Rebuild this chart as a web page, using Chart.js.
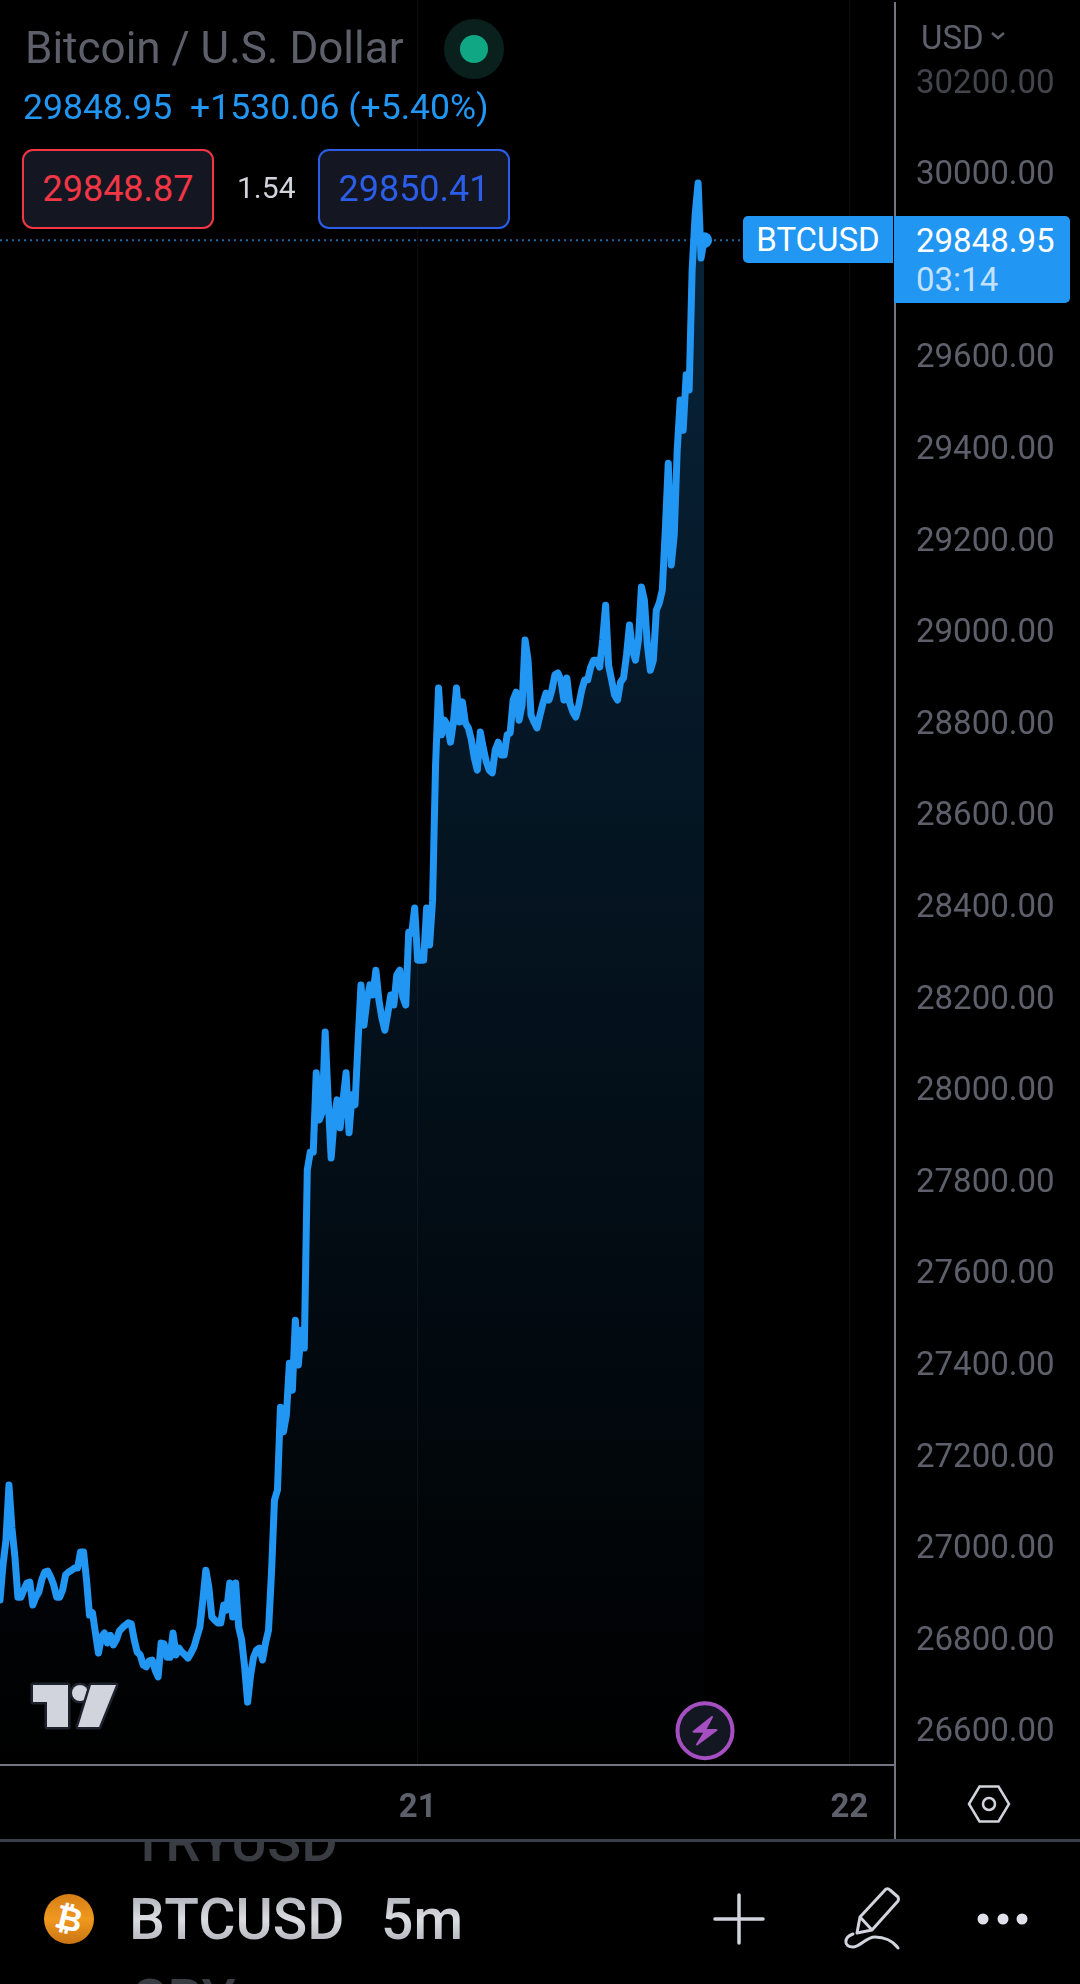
<!DOCTYPE html>
<html>
<head>
<meta charset="utf-8">
<title>BTCUSD</title>
<script src="https://cdn.jsdelivr.net/npm/chart.js@4/dist/chart.umd.min.js"></script>
<style>
html, body { margin: 0; padding: 0; background: #000; }
body { width: 1080px; height: 1984px; position: relative; overflow: hidden; font-family: Roboto, sans-serif; }
#chartWrap { position: absolute; left: 0; top: 0; width: 1080px; height: 1840px; }
.abs { position: absolute; white-space: nowrap; line-height: 1; }
.box { position: absolute; box-sizing: border-box; top: 149px; height: 80px; width: 192px; background: #141722; border-radius: 11px; border: 2px solid; font-size: 36px; text-align: center; line-height: 76px; }
.clip { position: absolute; overflow: hidden; left: 0; width: 600px; }
.metal { background: linear-gradient(180deg, #a9abb3 0%, #dcdde2 50%, #a9abb3 100%); -webkit-background-clip: text; background-clip: text; color: transparent; }
</style>
</head>
<body>
<div id="chartWrap"><canvas id="priceChart" width="1080" height="1840"></canvas></div>

<!-- header -->
<div class="abs" style="left:25px;top:26px;font-size:44px;color:#5d606b">Bitcoin / U.S. Dollar</div>
<div class="abs" style="left:444px;top:19px;width:60px;height:60px;border-radius:50%;background:#0a201d"></div>
<div class="abs" style="left:460px;top:35px;width:28px;height:28px;border-radius:50%;background:#10a884"></div>
<div class="abs" style="left:23px;top:90px;font-size:35.6px;color:#2196f3">29848.95&nbsp; +1530.06 (+5.40%)</div>
<div class="box" style="left:22px;border-color:#f23645;color:#f23645">29848.87</div>
<div class="abs" style="left:237px;top:173px;font-size:30px;color:#d1d4dc">1.54</div>
<div class="box" style="left:318px;border-color:#2b5de8;color:#2b5de8">29850.41</div>

<!-- price axis head -->
<div class="abs" style="left:921px;top:21px;font-size:33px;color:#5d606b">USD</div>
<svg class="abs" style="left:990px;top:31px" width="16" height="10"><path d="M2 2 L8 7 L14 2" fill="none" stroke="#5d606b" stroke-width="2.5"/></svg>

<!-- last price tags -->
<div class="abs" style="left:743px;top:216px;width:150px;height:47px;background:#2196f3;border-radius:5px 0 0 5px;color:#fff;font-size:33px;line-height:48px;text-align:center">BTCUSD</div>
<div class="abs" style="left:894px;top:216px;width:176px;height:87px;background:#2196f3;border-radius:0 5px 5px 0"></div>
<div class="abs" style="left:916px;top:224px;font-size:33px;color:#fff">29848.95</div>
<div class="abs" style="left:916px;top:263px;font-size:33px;color:#c2e1fb">03:14</div>

<!-- separators -->
<div class="abs" style="left:894px;top:2px;width:2px;height:214px;background:#72757e"></div>
<div class="abs" style="left:894px;top:303px;width:2px;height:1537px;background:#72757e"></div>
<div class="abs" style="left:0;top:1839px;width:1080px;height:3px;background:#3a3e48"></div>

<!-- watermark -->
<svg class="abs" style="left:24px;top:1674px" width="104" height="60" viewBox="24 1674 104 60">
  <g fill="#d1d4dc" stroke="#1e222d" stroke-width="5" paint-order="stroke" stroke-linejoin="round">
    <path d="M33 1685 H68 V1727 H47 V1702 H33 Z"/>
    <circle cx="80" cy="1693" r="8"/>
    <path d="M91 1685 H116 L99 1727 H78 Z"/>
  </g>
</svg>

<!-- lightning badge -->
<svg class="abs" style="left:672px;top:1698px" width="66" height="66" viewBox="0 0 66 66">
  <circle cx="33" cy="32.7" r="27.5" fill="#131722" stroke="#a64fc2" stroke-width="4"/>
  <path d="M40 19 L21.5 33.7 H33 L25 46.5 L44.5 32 H33 Z" fill="#a64fc2" stroke="#a64fc2" stroke-width="2" stroke-linejoin="round"/>
</svg>

<!-- settings hexagon -->
<svg class="abs" style="left:967px;top:1782px" width="44" height="44" viewBox="0 0 44 44">
  <path d="M2 22 L12.5 4.5 H31.5 L42 22 L31.5 39.5 H12.5 Z" fill="none" stroke="#d1d4dc" stroke-width="2.5"/>
  <circle cx="22" cy="22" r="6" fill="none" stroke="#d1d4dc" stroke-width="2.5"/>
</svg>

<!-- symbol strip -->
<div class="clip" style="top:1842px;height:30px"><div class="abs" style="left:131px;top:-28px;font-size:56px;font-weight:500;color:#3a3c43">TRYUSD</div></div>
<div class="clip" style="top:1974px;height:10px"><div class="abs" style="left:131px;top:-2px;font-size:56px;font-weight:500;color:#3a3c43">CRY</div></div>
<div class="abs" style="left:44px;top:1894px;width:50px;height:50px;border-radius:50%;background:linear-gradient(180deg,#d67d15 0%,#f0991f 50%,#c97414 100%)"></div>
<div class="abs" style="left:44px;top:1894px;width:50px;height:50px;color:#fff;font-size:33px;font-weight:700;text-align:center;line-height:50px;transform:rotate(14deg)">₿</div>
<div class="abs metal" style="left:129px;top:1891px;font-size:57px;font-weight:500">BTCUSD</div>
<div class="abs metal" style="left:381px;top:1891px;font-size:57px;font-weight:500">5m</div>
<svg class="abs" style="left:710px;top:1880px" width="340" height="75" viewBox="710 1880 340 75">
  <path d="M739 1895 V1943 M715 1919 H763" stroke="#d1d4dc" stroke-width="3.5" fill="none" stroke-linecap="round"/>
  <path d="M886 1889 Q888 1888 890 1890 L898 1897 Q899 1899 898 1901 L872 1930 L857 1933 L860 1917 Z M860 1917 L872 1930" fill="none" stroke="#d1d4dc" stroke-width="3" stroke-linejoin="round"/>
  <path d="M853 1934 C844 1937 843 1947 853 1947 C860 1947 866 1937 875 1937 C884 1937 893 1941 898 1948" fill="none" stroke="#d1d4dc" stroke-width="3" stroke-linecap="round"/>
  <circle cx="983" cy="1919" r="5.5" fill="#dfe0ea"/><circle cx="1003" cy="1919" r="5.5" fill="#dfe0ea"/><circle cx="1022" cy="1919" r="5.5" fill="#dfe0ea"/>
</svg>

<script>
// 10 minute closes
const PRICES = [
    26880, 26956, 27011, 27131, 27037, 26974, 26886, 26886, 26902, 26917,
    26919, 26869, 26886, 26897, 26924, 26941, 26943, 26930, 26913, 26886,
    26886, 26902, 26935, 26941, 26945, 26950, 26950, 26985, 26985, 26924,
    26847, 26852, 26808, 26764, 26799, 26808, 26786, 26803, 26782, 26793,
    26812, 26819, 26825, 26830, 26828, 26793, 26766, 26760, 26738, 26734,
    26747, 26749, 26727, 26712, 26786, 26784, 26755, 26755, 26808, 26760,
    26775, 26766, 26760, 26753, 26764, 26777, 26799, 26821, 26880, 26945,
    26908, 26843, 26836, 26830, 26830, 26869, 26858, 26917, 26843, 26917,
    26821, 26793, 26734, 26657, 26716, 26755, 26771, 26775, 26749, 26786,
    26814, 26939, 27098, 27120, 27301, 27247, 27284, 27397, 27338, 27491,
    27393, 27469, 27430, 27819, 27858, 27858, 28031, 27928, 27945, 28120,
    27972, 27845, 27928, 27972, 27911, 27972, 28031, 27900, 27983, 27961,
    28096, 28223, 28135, 28190, 28223, 28201, 28255, 28190, 28151, 28124,
    28162, 28201, 28179, 28245, 28255, 28197, 28179, 28338, 28336, 28391,
    28277, 28277, 28277, 28391, 28310, 28408, 28703, 28871, 28769, 28801,
    28790, 28753, 28797, 28871, 28797, 28841, 28795, 28784, 28758, 28718,
    28692, 28775, 28740, 28710, 28692, 28686, 28736, 28753, 28725, 28725,
    28769, 28773, 28845, 28862, 28801, 28834, 28976, 28932, 28812, 28797,
    28784, 28812, 28838, 28860, 28845, 28867, 28900, 28904, 28889, 28845,
    28893, 28838, 28819, 28808, 28834, 28867, 28889, 28889, 28917, 28932,
    28932, 28917, 28976, 29052, 28921, 28889, 28856, 28845, 28884, 28893,
    28943, 29009, 28954, 28932, 28976, 29092, 29063, 28965, 28910, 28932,
    29041, 29057, 29085, 29216, 29362, 29140, 29205, 29391, 29500, 29434,
    29555, 29522, 29784, 29904, 29974, 29810, 29848.95
];
const PRICE_TICKS = [30200, 30000, 29600, 29400, 29200, 29000, 28800, 28600, 28400, 28200,
    28000, 27800, 27600, 27400, 27200, 27000, 26800, 26600];
const DAY_TICKS = [140, 284.7];
const DAY_LABELS = ['21', '22'];

const PRICE_MIN = 26519.7;
const PRICE_MAX = 30373.4;
const BAR_MAX = 300;
const DOT_LINE_END = 250;

const BLUE = '#2196f3';
const AXIS_TEXT = '#5d606b';

function areaGradient(context) {
    const { ctx, chartArea } = context.chart;
    if (!chartArea) return 'transparent';
    const g = ctx.createLinearGradient(0, 183, 0, chartArea.bottom);
    g.addColorStop(0, 'rgba(33, 150, 243, 0.24)');
    g.addColorStop(1, 'rgba(33, 150, 243, 0)');
    return g;
}

const lastIndex = PRICES.length - 1;
const lastPrice = PRICES[lastIndex];

Chart.defaults.font.family = 'Roboto, sans-serif';

new Chart(document.getElementById('priceChart').getContext('2d'), {
    type: 'line',
    data: {
        datasets: [
            {
                data: PRICES.map((p, i) => ({ x: i, y: p })),
                borderColor: BLUE,
                borderWidth: 7,
                borderCapStyle: 'round',
                borderJoinStyle: 'round',
                backgroundColor: areaGradient,
                fill: 'start',
                tension: 0,
                pointRadius: (c) => (c.dataIndex === lastIndex ? 8 : 0),
                pointBackgroundColor: BLUE,
                pointBorderWidth: 0
            },
            {
                data: [{ x: 0, y: lastPrice }, { x: DOT_LINE_END, y: lastPrice }],
                borderColor: 'rgba(33, 150, 243, 0.7)',
                borderWidth: 2,
                borderDash: [2, 4],
                pointRadius: 0,
                fill: false,
                order: 2
            }
        ]
    },
    options: {
        responsive: false,
        animation: false,
        layout: { padding: 0, autoPadding: false },
        plugins: { legend: { display: false }, tooltip: { enabled: false } },
        scales: {
            x: {
                type: 'linear',
                min: 0,
                max: BAR_MAX,
                afterBuildTicks: (scale) => { scale.ticks = DAY_TICKS.map(v => ({ value: v })); },
                afterFit: (scale) => {
                    scale.height = 75;
                    scale.paddingLeft = 0;
                    scale.paddingRight = 0;
                },
                border: { color: '#72757e', width: 2 },
                grid: { color: 'rgba(255, 255, 255, 0.05)', drawTicks: false },
                ticks: {
                    color: AXIS_TEXT,
                    padding: 24,
                    maxRotation: 0,
                    autoSkip: false,
                    font: { size: 33, weight: '700' },
                    callback: (v) => DAY_LABELS[DAY_TICKS.indexOf(v)]
                }
            },
            y: {
                position: 'right',
                min: PRICE_MIN,
                max: PRICE_MAX,
                afterBuildTicks: (scale) => { scale.ticks = PRICE_TICKS.map(v => ({ value: v })); },
                afterFit: (scale) => {
                    scale.width = 185;
                    scale.paddingTop = 0;
                    scale.paddingBottom = 0;
                },
                border: { display: false },
                grid: { display: false, drawTicks: false },
                ticks: {
                    color: (c) => (c.tick.value === 30200 ? '#43454c' : AXIS_TEXT),
                    padding: 21,
                    autoSkip: false,
                    // blank first line nudges the label down onto its price
                    font: { size: 33, lineHeight: '10px' },
                    callback: (v) => ['', v.toFixed(2)]
                }
            }
        }
    }
});
</script>
</body>
</html>
